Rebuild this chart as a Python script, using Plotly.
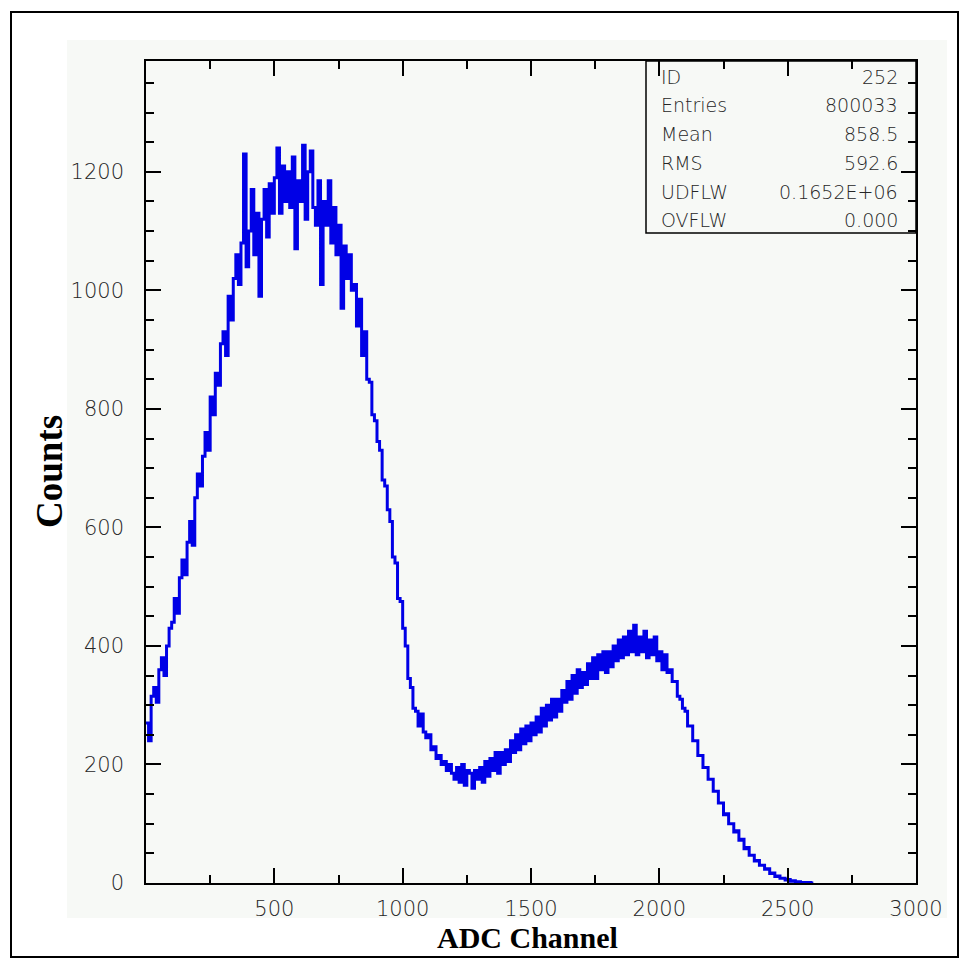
import plotly.graph_objects as go

# ---------------- data ----------------
BIN_WIDTH = 10  # ADC channels per bin

counts_0000 = [270, 240, 315, 330, 305, 360, 380, 350, 400, 430]
counts_0100 = [440, 480, 455, 515, 545, 520, 575, 610, 570, 650]
counts_0200 = [690, 670, 720, 760, 730, 820, 790, 860, 840, 910]
counts_0300 = [930, 890, 990, 950, 1020, 1060, 1010, 1080, 1230, 1040]
counts_0400 = [1100, 1170, 1060, 1130, 990, 1120, 1170, 1090, 1180, 1130]
counts_0500 = [1190, 1240, 1130, 1210, 1150, 1200, 1140, 1225, 1070, 1185]
counts_0600 = [1150, 1245, 1120, 1200, 1235, 1140, 1110, 1185, 1010, 1150]
counts_0700 = [1110, 1185, 1080, 1140, 1060, 1110, 970, 1075, 1020, 1060]
counts_0800 = [1000, 1010, 940, 985, 890, 930, 850, 845, 790, 780]
counts_0900 = [745, 730, 680, 670, 630, 610, 550, 540, 480, 475]
counts_1000 = [430, 400, 345, 330, 295, 290, 265, 285, 255, 245]
counts_1100 = [250, 225, 230, 210, 215, 200, 205, 190, 200, 185]
counts_1200 = [175, 195, 170, 200, 165, 190, 185, 160, 190, 175]
counts_1300 = [195, 170, 205, 180, 210, 190, 220, 185, 220, 200]
counts_1400 = [225, 205, 240, 220, 250, 225, 260, 235, 265, 240]
counts_1500 = [270, 250, 280, 255, 295, 265, 300, 275, 310, 280]
counts_1600 = [310, 290, 325, 305, 340, 310, 350, 320, 360, 330]
counts_1700 = [355, 335, 370, 345, 380, 345, 385, 360, 390, 355]
counts_1800 = [390, 365, 400, 375, 410, 380, 415, 385, 425, 390]
counts_1900 = [435, 385, 415, 390, 425, 380, 410, 385, 415, 375]
counts_2000 = [390, 360, 385, 355, 360, 340, 340, 315, 310, 295]
counts_2100 = [290, 265, 265, 240, 240, 215, 215, 195, 195, 175]
counts_2200 = [175, 155, 155, 135, 135, 115, 117, 100, 100, 86]
counts_2300 = [88, 72, 74, 58, 60, 47, 47, 37, 38, 30]
counts_2400 = [30, 23, 24, 16, 17, 11, 12, 8, 8, 5]
counts_2500 = [6, 3, 4, 2, 2, 1, 1, 1, 1, 0]

x_tick_vals = [500, 1000, 1500, 2000, 2500, 3000]
x_tick_text = ["500", "1000", "1500", "2000", "2500", "3000"]
x_minor_vals = [250, 750, 1250, 1750, 2250, 2750]
y_tick_vals = [0, 200, 400, 600, 800, 1000, 1200]
y_tick_text = ["0", "200", "400", "600", "800", "1000", "1200"]

stat_labels = ["ID", "Entries", "Mean", "RMS", "UDFLW", "OVFLW"]
stat_values = ["252", "800033", "858.5", "592.6", "0.1652E+06", "0.000"]

x_title = "ADC Channel"
y_title = "Counts"

# ---------------- build ----------------
counts = (counts_0000 + counts_0100 + counts_0200 + counts_0300 + counts_0400 +
          counts_0500 + counts_0600 + counts_0700 + counts_0800 + counts_0900 +
          counts_1000 + counts_1100 + counts_1200 + counts_1300 + counts_1400 +
          counts_1500 + counts_1600 + counts_1700 + counts_1800 + counts_1900 +
          counts_2000 + counts_2100 + counts_2200 + counts_2300 + counts_2400 +
          counts_2500)
edges = [i * BIN_WIDTH for i in range(len(counts) + 1)]
ys = counts + [counts[-1]]

# page (window) pixel geometry; the html body adds an 8px margin
BODY = 8
WIN_W, WIN_H = 969, 968
W, H = WIN_W - BODY, WIN_H - BODY
L, R, T, B = 146, 916, 61, 883  # plot area in window pixels
pw, ph = R - L, B - T


def px(x):
    return (x - L) / pw


def py(y):
    return (B - y) / ph


BG = "#f7f9f6"
TICKFONT = dict(family="DejaVu Sans", size=21, color="#262626", weight=300)
STATFONT = dict(family="DejaVu Sans", size=19, color="#262626", weight=300)

fig = go.Figure()
fig.add_trace(go.Scatter(
    x=edges, y=ys, mode="lines", line=dict(color="#0000e6", width=3, shape="hv"),
    showlegend=False, hoverinfo="skip"))

axis_common = dict(
    showline=True, linecolor="black", linewidth=1.5, mirror="ticks",
    ticks="inside", tickcolor="black", tickwidth=1.5, ticklen=15,
    showgrid=False, zeroline=False, tickfont=TICKFONT,
)

fig.update_xaxes(
    range=[0, 3000], tickmode="array", tickvals=x_tick_vals, ticktext=x_tick_text,
    ticklabelstandoff=6,
    minor=dict(ticks="inside", ticklen=8, tickwidth=1.5, tickcolor="black",
               tickmode="array", tickvals=x_minor_vals, showgrid=False),
    **axis_common)
fig.update_yaxes(
    range=[0, 1387], tickmode="array", tickvals=y_tick_vals, ticktext=y_tick_text,
    ticklabelstandoff=16,
    minor=dict(ticks="inside", ticklen=8, tickwidth=1.5, tickcolor="black",
               dtick=50, tick0=0, showgrid=False),
    **axis_common)

shapes = [
    # light image background
    dict(type="rect", xref="paper", yref="paper", x0=px(67), x1=px(947), y0=py(918), y1=py(40),
         fillcolor=BG, line=dict(width=0), layer="below"),
    # outer frame
    dict(type="rect", xref="paper", yref="paper", x0=px(11), x1=px(958), y0=py(957), y1=py(12),
         line=dict(color="black", width=2), layer="above"),
    # stats box
    dict(type="rect", xref="paper", yref="paper", x0=px(646), x1=1.0, y0=py(233), y1=1.0,
         fillcolor=BG, line=dict(color="black", width=1.5), layer="below"),
]

annotations = []
row_y = [77, 105, 134, 163, 192, 220]
for lab, val, yy in zip(stat_labels, stat_values, row_y):
    annotations.append(dict(xref="paper", yref="paper", x=px(659), y=py(yy), text=lab,
                            showarrow=False, xanchor="left", yanchor="middle", font=STATFONT))
    annotations.append(dict(xref="paper", yref="paper", x=px(900), y=py(yy), text=val,
                            showarrow=False, xanchor="right", yanchor="middle", font=STATFONT))

annotations.append(dict(xref="paper", yref="paper", x=px(527), y=py(937), text=f"<b>{x_title}</b>",
                        showarrow=False, xanchor="center", yanchor="middle",
                        font=dict(family="Liberation Serif", size=30, color="black")))
annotations.append(dict(xref="paper", yref="paper", x=px(49), y=py(472), text=f"<b>{y_title}</b>",
                        showarrow=False, xanchor="center", yanchor="middle", textangle=-90,
                        font=dict(family="Liberation Serif", size=37, color="black")))

fig.update_layout(
    width=W, height=H, autosize=False,
    margin=dict(l=L - BODY, r=WIN_W - R, t=T - BODY, b=WIN_H - B, pad=0),
    paper_bgcolor="white", plot_bgcolor=BG,
    shapes=shapes, annotations=annotations, showlegend=False,
)

fig.write_html("out.html")
